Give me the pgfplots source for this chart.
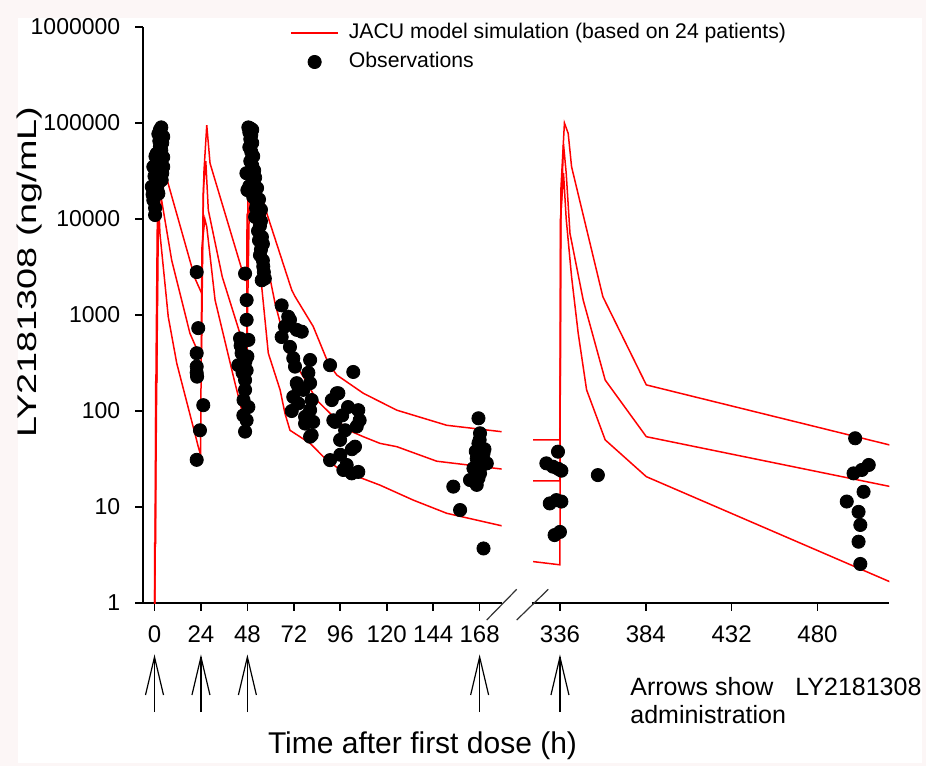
\documentclass[border=0pt]{standalone}
\usepackage{fontspec}
\setmainfont{Liberation Sans}
\usepackage{pgfplots}
\pgfplotsset{compat=1.18}
\definecolor{bgpink}{RGB}{252,246,246}
\definecolor{simred}{RGB}{255,0,0}
\tikzset{
  simline/.style={simred, line width=0.75pt},
  obs/.style={black, mark=*, mark size=3.3pt, mark options={fill=black, draw=black}},
  dosearrow/.style={line width=0.6pt, black},
}
\begin{document}
\begin{tikzpicture}[x=1pt,y=1pt]
\fill[bgpink] (0,0) rectangle (463,383);
\fill[white] (9,1.5) rectangle (461,374);

% ---------------- left segment ----------------
\begin{axis}[
  scale only axis, height=288pt, width=179.2pt,
  at={(71.65pt,81.5pt)}, anchor=south west,
  ymode=log, ymin=1, ymax=1000000,
  xmin=-5.79, xmax=179.4,
  yminorticks=false, xminorticks=false,
  tick align=outside, major tick length=4pt,
  axis line style={line width=0.9pt, black},
  tick style={line width=0.8pt, black},
  xticklabel style={font=\fontsize{12}{14}\selectfont, yshift=-4pt},
  yticklabel style={font=\fontsize{11.5}{14}\selectfont, xshift=-4pt},
  clip mode=individual,
  axis x line*=bottom, axis y line*=left,
  xtick={0,24,48,72,96,120,144,168},
  xticklabels={0,24,48,72,96,120,144,168},
  ytick={1,10,100,1000,10000,100000,1000000},
  yticklabels={1,10,100,1000,10000,100000,1000000},
  legend style={at={(axis description cs:0.4093,1.012)}, anchor=north west,
    draw=none, fill=none, inner sep=0pt, column sep=4pt, row sep=2pt,
    font=\fontsize{10.6}{12}\selectfont,
    nodes={inner sep=1pt, text height=8pt, text depth=2.5pt}},
  legend cell align=left,
]
% simulated percentiles (upper, median, lower)
\addplot[simline, mark=none, legend image code/.code={\draw[simred, line width=0.75pt] (0pt,0pt) -- (23.5pt,0pt);}] coordinates {
(0,0.5)(0.8,300)(1.5,12000)(4,20000)(6.3,26500)(20.9,2410)(24.4,1680)(25.5,30000)(27,95000)(28.7,38000)(46.8,2300)(47.8,2300)(48.5,40000)(50,60000)(53,25000)(58,11500)(70.9,1820)(72.6,1560)(82,760)(89.8,314)(94.2,237)(107.9,153)(125.2,102)(151,71)(182,60)};
\addlegendentry{JACU model simulation (based on 24 patients)}
\addplot[simline, mark=none, forget plot] coordinates {
(0,0.5)(1,100)(2,10000)(3.7,15600)(8.9,3700)(18.3,645)(23.5,370)(24.3,370)(25.2,20000)(26.5,40000)(27.8,12400)(35,2500)(47,420)(47.8,420)(49,15000)(51,25000)(57.1,4400)(62.3,1320)(69.1,400)(76.9,228)(83.8,130)(90.7,94.6)(100.2,63)(107.9,54)(116.5,46)(125.2,42.5)(145.8,30)(182,24.5)};
\addplot[simline, mark=none, forget plot] coordinates {
(0,0.5)(0,4.2)(0.6,4.2)(0.6,200)(1.2,200)(1.6,7000)(2.5,10000)(2.8,7100)(7.1,960)(11.5,314)(20.9,58)(22.6,42.5)(23.8,35)(24.5,5000)(26,10000)(27,8300)(31.3,1430)(41.6,195)(45.1,102)(47.7,85)(47.8,11000)(50,15000)(55.4,1970)(58.8,400)(64.9,166)(67.4,94.6)(70,63)(80.4,46)(87.2,33.5)(95.9,24.3)(116.5,16.9)(133.7,11.8)(151,8.6)(182,6.2)};
% observations
\addplot[obs, only marks, legend image code/.code={\fill[black] (11.75pt,0pt) circle (3.3pt);}] coordinates {
(-0.6,15700)(0.3,11000)(0.3,13000)(-1.4,21700)(2,18400)(3.7,25500)(1.1,30000)(4.5,35000)(-0.6,35000)(1.1,48000)(4.5,44000)(2.8,57000)(4.5,72000)(2,77000)(2.8,85000)(3.5,90000)(1.5,25000)(3,40000)(0,28000)(2.5,65000)(1.5,20000)(4,30000)(0.5,45000)(3.5,52000)(2,33000)(4,62000)(1,38000)(3,80000)(-1,18000)(2.2,24000)
(21.8,2800)(22.6,730)(21.8,400)(21.8,290)(21.8,250)(22,228)(25.2,115)(23.5,63)(21.8,31)
(46.8,2700)(47.6,1430)(47.6,890)(44.2,570)(48.5,550)(45,400)(48,370)(43.3,300)(47.6,265)(46.8,210)(46.8,166)(48.5,110)(45.9,90)(47.6,80)(46.8,61)(44.5,480)(47,330)(45.5,250)(46,130)
(48.5,90000)(49.5,88000)(50.5,85000)(49,80000)(50,75000)(49.5,68000)(50.5,62000)(49,56000)(50,50000)(51,45000)(49.5,40000)(50.5,36000)(51.5,32000)(50,29000)(52,27000)(51,24000)(49,22000)(53,21000)(52,19000)(51,17000)(54,16000)(53,14500)(52.5,13000)(55,12500)(54,11000)(52,10500)(55,9500)(54.5,8500)(53.5,7500)(55.5,6500)(54,6000)(56,5500)(55,4800)(54.5,4200)(56,3700)(56.2,3200)(56.5,2800)(55.4,2300)(57,2400)(48,20000)(47.5,30000)
(65.7,1260)(69.1,960)(67.4,760)(73.5,700)(65.7,590)(70,465)(71.7,355)(72.6,290)(80.4,340)(79.5,250)(73.5,195)(76.9,166)(71.7,140)(81.2,130)(74.3,120)(70.9,100)(77.8,87)(82,77)(80.4,54)(76.1,670)(70,890)(74.3,178)(80.4,195)(80.4,102)(77.8,74)(81.2,56)
(90.7,300)(102.7,255)(95,153)(91.6,130)(105.3,102)(93.3,77)(104.5,69)(98.5,63)(95.9,50)(103.6,42.5)(90.7,30.8)(99.3,27.4)(105.3,23.2)(101.9,22.4)(97.6,24.3)(94.2,153)(106,80)(92.4,80)(100,110)(97,90)(102,40)(96,35)
(167.4,84)(168.2,58.6)(167.4,46)(170,36)(166.5,32)(171.7,28.5)(164.8,25.3)(168.2,22.4)(163,19.1)(166.5,17)(167.4,20)(169,27)(170.5,40)(168,50)(166,38)(154.4,16.3)(157.9,9.3)(170,3.7)};
\addlegendentry{Observations}
% dosing arrows
\draw[dosearrow] ([yshift=-54.5pt]axis cs:0,1) -- ([yshift=-27pt]axis cs:0,1);
\draw[dosearrow] ([xshift=-4.5pt,yshift=-46pt]axis cs:0,1) -- ([yshift=-27pt]axis cs:0,1) -- ([xshift=4.5pt,yshift=-46pt]axis cs:0,1);
\draw[dosearrow] ([yshift=-54.5pt]axis cs:24,1) -- ([yshift=-27pt]axis cs:24,1);
\draw[dosearrow] ([xshift=-4.5pt,yshift=-46pt]axis cs:24,1) -- ([yshift=-27pt]axis cs:24,1) -- ([xshift=4.5pt,yshift=-46pt]axis cs:24,1);
\draw[dosearrow] ([yshift=-54.5pt]axis cs:48,1) -- ([yshift=-27pt]axis cs:48,1);
\draw[dosearrow] ([xshift=-4.5pt,yshift=-46pt]axis cs:48,1) -- ([yshift=-27pt]axis cs:48,1) -- ([xshift=4.5pt,yshift=-46pt]axis cs:48,1);
\draw[dosearrow] ([yshift=-54.5pt]axis cs:168,1) -- ([yshift=-27pt]axis cs:168,1);
\draw[dosearrow] ([xshift=-4.5pt,yshift=-46pt]axis cs:168,1) -- ([yshift=-27pt]axis cs:168,1) -- ([xshift=4.5pt,yshift=-46pt]axis cs:168,1);
\end{axis}

% ---------------- right segment ----------------
\begin{axis}[
  scale only axis, height=288pt, width=178.8pt,
  at={(265.85pt,81.5pt)}, anchor=south west,
  ymode=log, ymin=1, ymax=1000000,
  xmin=320.2, xmax=520.2,
  yminorticks=false, xminorticks=false,
  tick align=outside, major tick length=4pt,
  axis line style={line width=0.9pt, black},
  tick style={line width=0.8pt, black},
  xticklabel style={font=\fontsize{12}{14}\selectfont, yshift=-4pt},
  clip mode=individual,
  axis x line*=bottom, axis y line=none,
  xtick={336,384,432,480},
  xticklabels={336,384,432,480},
]
\addplot[simline, mark=none] coordinates {
(321,50)(336,50)(336.5,20000)(338.5,100000)(340.6,78000)(342.5,35000)(360,1550)(384.3,187)(521,44)};
\addplot[simline, mark=none] coordinates {
(321,18.7)(336,18.7)(336.5,10000)(338,60000)(339.5,30000)(341.6,7100)(349,1430)(361.3,210)(384.3,54)(521,16.3)};
\addplot[simline, mark=none] coordinates {
(321,2.7)(336,2.5)(336.3,10000)(338,30000)(339.5,10000)(342.5,2500)(346.2,646)(350.9,166)(361.3,50)(384.3,20.7)(521,1.65)};
\addplot[obs, only marks] coordinates {
(334.9,37.7)(328.4,28.5)(332.1,26.3)(336.8,23.9)(330.3,10.9)(336.8,11.4)(334,11.8)(333,5.1)(336,5.5)(335,25)(357.2,21.5)
(501.1,52)(508.7,27.4)(504.8,24.3)(500.2,22.4)(505.8,14.4)(496.4,11.4)(503,8.9)(504,6.5)(503,4.35)(504,2.55)};
\draw[dosearrow] ([yshift=-54.5pt]axis cs:336,1) -- ([yshift=-27pt]axis cs:336,1);
\draw[dosearrow] ([xshift=-4.5pt,yshift=-46pt]axis cs:336,1) -- ([yshift=-27pt]axis cs:336,1) -- ([xshift=4.5pt,yshift=-46pt]axis cs:336,1);
\end{axis}

% axis break marks
\draw[line width=0.6pt, black!80] (243.35,73) -- (258.35,88.35);
\draw[line width=0.6pt, black!80] (258.35,73) -- (274.15,88.35);

% labels
\node[rotate=90, font=\fontsize{13.5}{15}\selectfont] at (15,247) {\scalebox{1.4}[1]{LY2181308 (ng/mL)}};
\node[font=\fontsize{15}{17}\selectfont] at (211.25,10) {Time after first dose (h)};
\node[anchor=base west, inner sep=0pt, font=\fontsize{12.5}{14}\selectfont] at (315,35.5) {Arrows show};
\node[anchor=base west, inner sep=0pt, font=\fontsize{12.5}{14}\selectfont] at (397.5,35.5) {LY2181308};
\node[anchor=base west, inner sep=0pt, font=\fontsize{12.5}{14}\selectfont] at (315,21.5) {administration};
\end{tikzpicture}
\end{document}
